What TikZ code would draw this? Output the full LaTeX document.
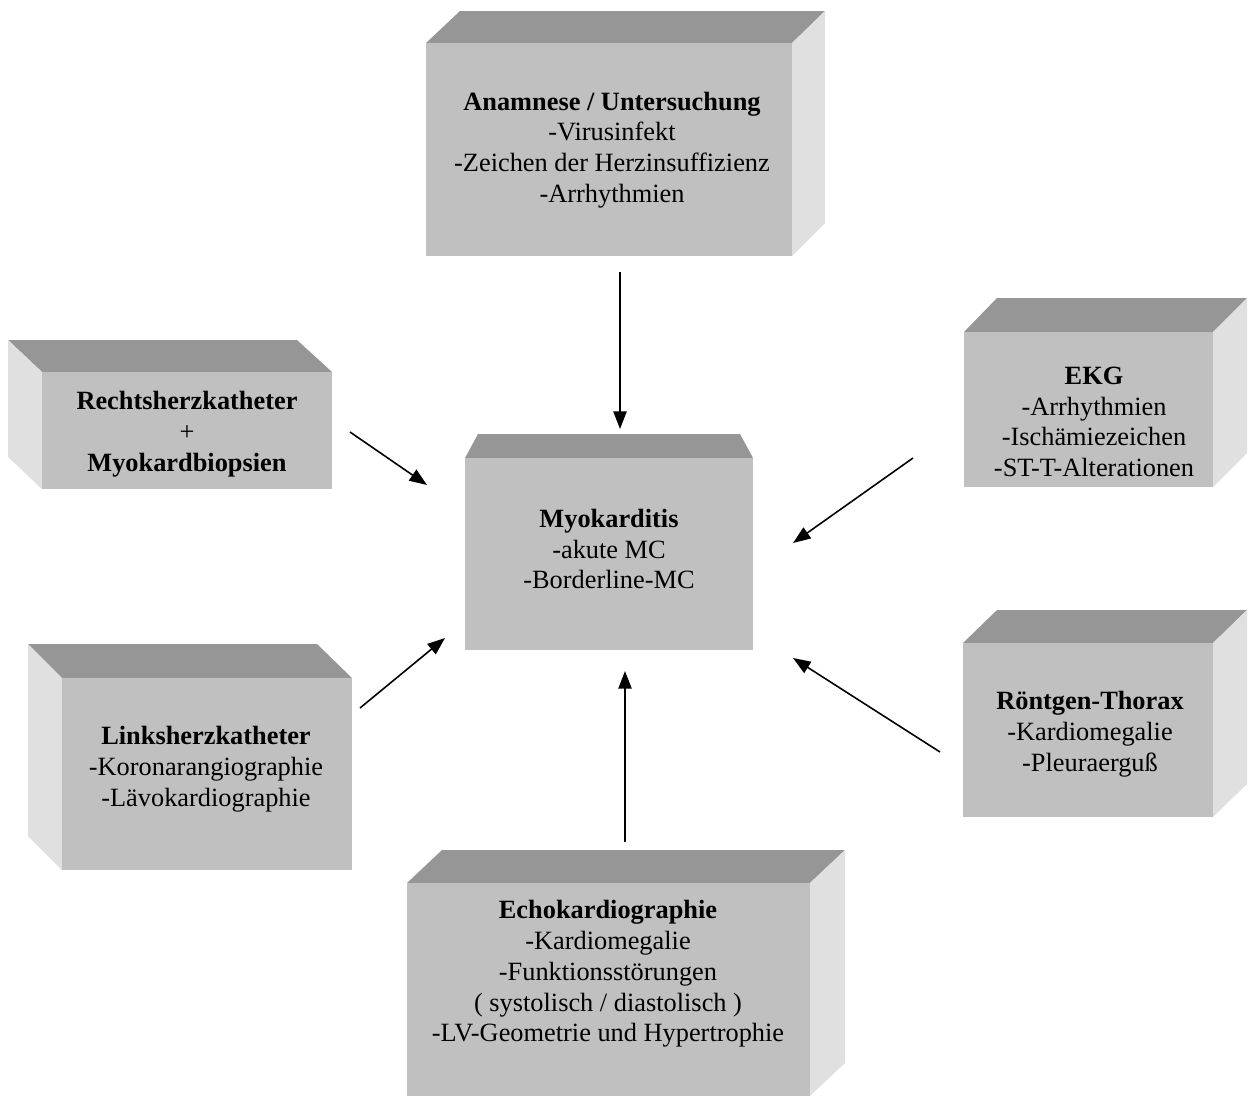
\documentclass[tikz,border=0pt]{standalone}
\usepackage{fontspec}
\setmainfont{Liberation Serif}
\usepackage{tikz}
\usetikzlibrary{arrows.meta,positioning}

\begin{document}
\begin{tikzpicture}[x=0.02cm,y=-0.02cm,
		front/.style={fill=frontgray},
		top/.style={fill=topgray},
		side/.style={fill=sidegray},
		txt/.style={align=center,font=\fontsize{15}{17.5}\selectfont},
		pfeil/.style={line width=0.9pt,-{Triangle[length=10pt,width=7.5pt]}}]
	\definecolor{frontgray}{HTML}{C0C0C0}
	\definecolor{topgray}{HTML}{969696}
	\definecolor{sidegray}{HTML}{E0E0E0}
	\useasboundingbox (0,0) rectangle (1253,1096);

	% Anamnese (top)
	\fill[top] (426,43) -- (460,11) -- (825,11) -- (792,43) -- cycle;
	\fill[side] (792,43) -- (825,11) -- (825,223) -- (792,256) -- cycle;
	\fill[front] (426,43) rectangle (792,256);
	\node[txt] (ana) at (612,150) {\textbf{Anamnese / Untersuchung}\\-Virusinfekt\\-Zeichen der Herzinsuffizienz\\-Arrhythmien};

	% Rechtsherzkatheter (left, upper)
	\fill[top] (42,372) -- (8,340) -- (297,340) -- (332,372) -- cycle;
	\fill[side] (42,372) -- (8,340) -- (8,457) -- (42,489) -- cycle;
	\fill[front] (42,372) rectangle (332,489);
	\node[txt] (rhk) at (187,434) {\textbf{Rechtsherzkatheter}\\+\\\textbf{Myokardbiopsien}};

	% Linksherzkatheter (left, lower)
	\fill[top] (62,678) -- (28,644) -- (317,644) -- (352,678) -- cycle;
	\fill[side] (62,678) -- (28,644) -- (28,836) -- (62,870) -- cycle;
	\fill[front] (62,678) rectangle (352,870);
	\node[txt] (lhk) at (206,769) {\textbf{Linksherzkatheter}\\-Koronarangiographie\\-Lävokardiographie};

	% Echokardiographie (bottom)
	\fill[top] (407,883) -- (442,850) -- (845,850) -- (810,883) -- cycle;
	\fill[side] (810,883) -- (845,850) -- (845,1063) -- (810,1096) -- cycle;
	\fill[front] (407,883) rectangle (810,1096);
	\node[txt] (echo) at (608,974) {\textbf{Echokardiographie}\\-Kardiomegalie\\-Funktionsstörungen\\( systolisch / diastolisch )\\-LV-Geometrie und Hypertrophie};

	% EKG (right, upper)
	\fill[top] (964,332) -- (997,298) -- (1247,298) -- (1213,332) -- cycle;
	\fill[side] (1213,332) -- (1247,298) -- (1247,453) -- (1213,487) -- cycle;
	\fill[front] (964,332) rectangle (1213,487);
	\node[txt] (ekg) at (1094,422) {\textbf{EKG}\\-Arrhythmien\\-Ischämiezeichen\\-ST-T-Alterationen};

	% Roentgen-Thorax (right, lower)
	\fill[top] (963,643) -- (997,610) -- (1247,610) -- (1213,643) -- cycle;
	\fill[side] (1213,643) -- (1247,610) -- (1247,784) -- (1213,817) -- cycle;
	\fill[front] (963,643) rectangle (1213,817);
	\node[txt] (rtg) at (1090,734) {\textbf{Röntgen-Thorax}\\-Kardiomegalie\\-Pleuraerguß};

	% Myokarditis (centre)
	\fill[top] (465,458) -- (478,434) -- (740,434) -- (753,458) -- cycle;
	\fill[front] (465,458) rectangle (753,650);
	\node[txt] (myo) at (609,549) {\textbf{Myokarditis}\\-akute MC\\-Borderline-MC};

	% arrow ends
	\coordinate (anaOut) at (620,272);
	\coordinate (myoIn1) at (620,429);
	\coordinate (rhkOut) at (350,432);
	\coordinate (myoIn2) at (427,485);
	\coordinate (lhkOut) at (360,708);
	\coordinate (myoIn3) at (445,638);
	\coordinate (echoOut) at (625,842);
	\coordinate (myoIn4) at (625,671);
	\coordinate (ekgOut) at (913,458);
	\coordinate (myoIn5) at (793,543);
	\coordinate (rtgOut) at (940,752);
	\coordinate (myoIn6) at (793,658);

	\draw[pfeil] (anaOut) -- (myoIn1);
	\draw[pfeil] (rhkOut) -- (myoIn2);
	\draw[pfeil] (lhkOut) -- (myoIn3);
	\draw[pfeil] (echoOut) -- (myoIn4);
	\draw[pfeil] (ekgOut) -- (myoIn5);
	\draw[pfeil] (rtgOut) -- (myoIn6);
\end{tikzpicture}
\end{document}
